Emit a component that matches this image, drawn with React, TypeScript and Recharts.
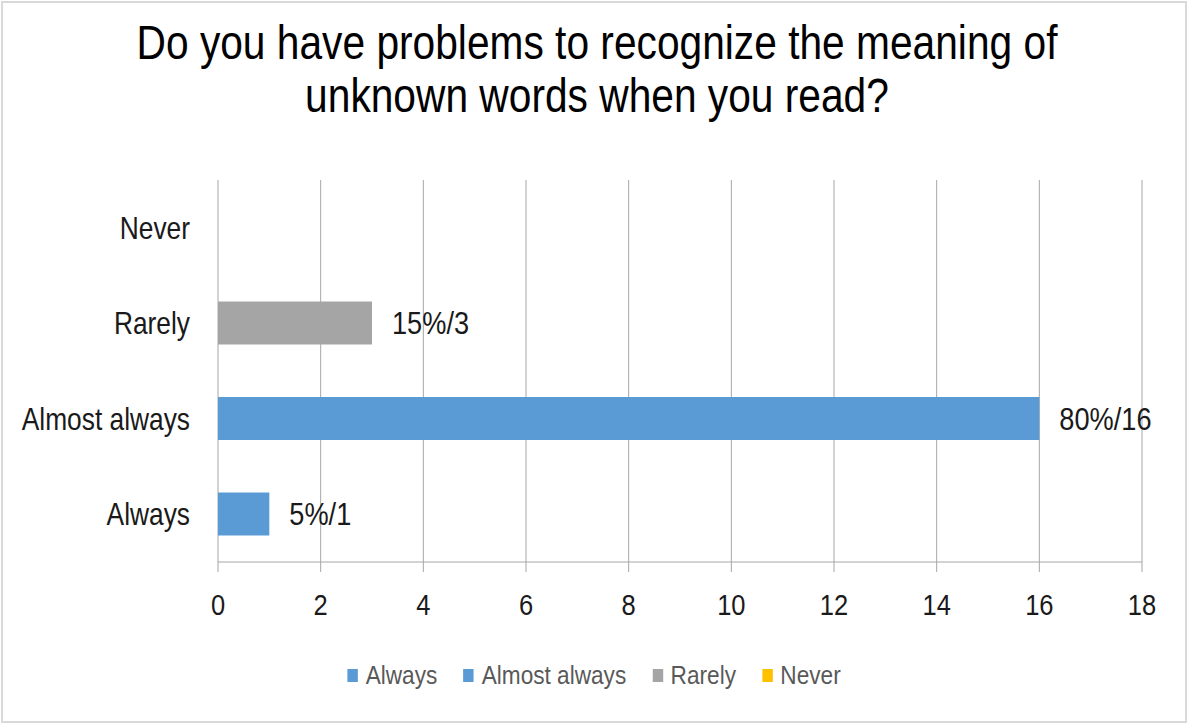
import { BarChart, Bar, XAxis, YAxis, CartesianGrid, LabelList } from 'recharts';

// categories from bottom to top, as in the picture
const categories = ['Always', 'Almost always', 'Rarely', 'Never'];
const counts = [1, 16, 3, 0];
const percents = [5, 80, 15, 0];
const xTicks = [0, 2, 4, 6, 8, 10, 12, 14, 16, 18];
const edgeTicks = [0, 1, 2, 3, 4];

const colors: Record<string, string> = {
  'Always': '#5B9BD5',
  'Almost always': '#5B9BD5',
  'Rarely': '#A5A5A5',
  'Never': '#FFC000',
};

const FONT = '"Liberation Sans", Arial, sans-serif';
// the original text is a narrow face; squeeze the regular one
const SQUEEZE = 0.85;
const squeeze = (x: number, y: number, k = SQUEEZE) =>
  `translate(${x} ${y}) scale(${k} 1) translate(${-x} ${-y})`;

// every series only has a value on its own row (Excel-style one-series-per-category)
const data = categories.map((cat, i) => {
  const row: any = { category: cat };
  categories.forEach((s) => {
    row[s] = s === cat && counts[i] > 0 ? counts[i] : null;
  });
  return row;
});

const CategoryTick = (props: any) => {
  const { x, y, payload } = props;
  return (
    <text x={x} y={y} dy="0.355em" textAnchor="end" fontSize={31} fontFamily={FONT} fill="#1a1a1a" transform={squeeze(x, y)}>
      {payload.value}
    </text>
  );
};

const ValueTick = (props: any) => {
  const { x, y, payload } = props;
  return (
    <text x={x} y={y} dy="0.71em" textAnchor="middle" fontSize={30} fontFamily={FONT} fill="#1a1a1a" transform={squeeze(x, y)}>
      {payload.value}
    </text>
  );
};

const makeLabel = (pct: number) => (props: any) => {
  const { x, y, width, height, value } = props;
  if (!value) return null;
  const lx = Number(x) + Number(width) + 20;
  const ly = Number(y) + Number(height) / 2;
  return (
    <text x={lx} y={ly} dy="0.355em" textAnchor="start" fontSize={32} fontFamily={FONT} fill="#1a1a1a" transform={squeeze(lx, ly)}>
      {`${pct}%/${value}`}
    </text>
  );
};

export default function App() {
  return (
    <div style={{ position: 'absolute', left: 0, top: 0, width: 1189, height: 725, background: '#fff', fontFamily: FONT }}>
      <div style={{ position: 'absolute', left: 1, top: 1, width: 1186, height: 722, border: '2px solid #d9d9d9', boxSizing: 'border-box' }} />
      <div
        style={{
          position: 'absolute',
          left: 0,
          top: 16,
          width: 1194,
          textAlign: 'center',
          fontSize: 48,
          lineHeight: '53px',
          color: '#000',
          transform: 'scaleX(0.848)',
          whiteSpace: 'nowrap',
        }}
      >
        Do you have problems to recognize the meaning of
        <br />
        unknown words when you read?
      </div>
      <div style={{ position: 'absolute', left: 0, top: 0 }}>
        <BarChart
          width={1189}
          height={725}
          data={data}
          layout="vertical"
          margin={{ top: 180, right: 47, left: 18, bottom: 103 }}
        >
          <CartesianGrid horizontal={false} stroke="#a6a6a6" yAxisId="cat" />
          <XAxis
            type="number"
            domain={[0, 18]}
            ticks={xTicks}
            height={60}
            stroke="#a6a6a6"
            tickSize={10}
            tickMargin={22}
            tick={<ValueTick />}
          />
          <YAxis
            yAxisId="edge"
            type="number"
            domain={[0, 4]}
            ticks={edgeTicks}
            width={0}
            stroke="#a6a6a6"
            tickSize={9}
            tickFormatter={() => ''}
          />
          <YAxis
            yAxisId="cat"
            type="category"
            dataKey="category"
            reversed
            width={200}
            axisLine={false}
            tickLine={false}
            tickSize={0}
            tickMargin={28}
            tick={<CategoryTick />}
          />
          {categories.map((s, i) => (
            <Bar
              key={s}
              yAxisId="cat"
              dataKey={s}
              stackId="s"
              fill={colors[s]}
              barSize={43}
              isAnimationActive={false}
            >
              <LabelList dataKey={s} content={makeLabel(percents[i])} />
            </Bar>
          ))}
        </BarChart>
      </div>
      <div
        style={{
          position: 'absolute',
          left: 0,
          top: 660,
          width: 1189,
          display: 'flex',
          justifyContent: 'center',
          alignItems: 'center',
          gap: 30,
          fontSize: 26,
          color: '#595959',
          transform: 'scaleX(0.87)',
          transformOrigin: '591px 0',
        }}
      >
        {categories.map((s) => (
          <div key={s} style={{ display: 'flex', alignItems: 'center' }}>
            <span style={{ display: 'inline-block', width: 12, height: 13, background: colors[s], marginRight: 9 }} />
            <span>{s}</span>
          </div>
        ))}
      </div>
    </div>
  );
}
